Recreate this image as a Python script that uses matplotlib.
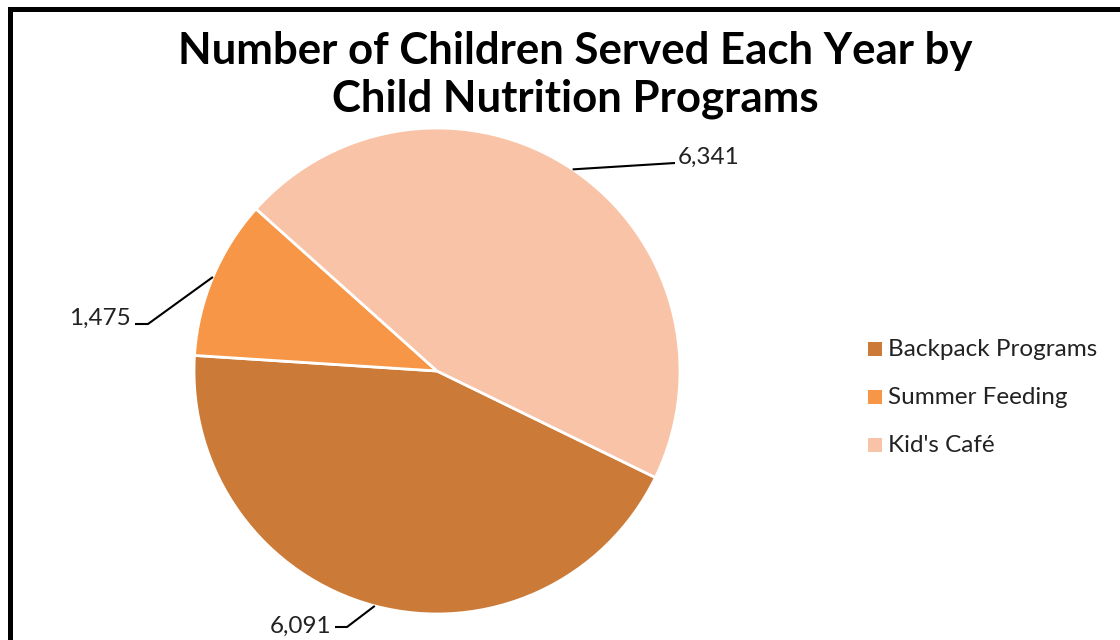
import numpy as np
import matplotlib
matplotlib.use("Agg")
import matplotlib.pyplot as plt
from matplotlib.lines import Line2D

categories = ["Backpack Programs", "Summer Feeding", "Kid's Café"]
values = [6091, 1475, 6341]
value_labels = ["6,091", "1,475", "6,341"]
colors = ["#CC7A37", "#F79646", "#F9C3A8"]
title = "Number of Children Served Each Year by\nChild Nutrition Programs"

W, H = 1120, 640
fig = plt.figure(figsize=(W / 100, H / 100), dpi=100)
fig.patch.set_facecolor("white")

cx, cy, r = 437, 371, 243
ax = fig.add_axes([(cx - r) / W, (H - cy - r) / H, 2 * r / W, 2 * r / H])

wedges, _ = ax.pie(values, colors=colors, startangle=-26, counterclock=False,
                   radius=1, wedgeprops=dict(edgecolor="white", linewidth=2))
ax.set_xlim(-1, 1)
ax.set_ylim(-1, 1)
ax.set_aspect("equal")
ax.axis("off")

def px(x, y):
    return ((x - cx) / r, (cy - y) / r)

# label layout: (elbow/end points in px, text pos, ha, va)
layouts = [
    dict(pts=[(347, 627), (335, 627)], text=(331, 626), ha="right", va="center"),
    dict(pts=[(148, 324), (135, 324)], text=(131, 325), ha="right", va="baseline"),
    dict(pts=[(675, 163)], text=(678, 157), ha="left", va="center"),
]

for w, lab, lay in zip(wedges, value_labels, layouts):
    mid = np.deg2rad((w.theta1 + w.theta2) / 2)
    start = (np.cos(mid), np.sin(mid))
    pts = [start] + [px(*p) for p in lay["pts"]]
    xs, ys = zip(*pts)
    ax.plot(xs, ys, color="black", lw=1.5, clip_on=False, solid_capstyle="butt")
    tx, ty = px(*lay["text"])
    ax.text(tx, ty, lab, ha=lay["ha"], va=lay["va"], fontsize=17.5,
            family="Lato", color="#222222", clip_on=False)

fig.text(575 / W, 1 - 75 / H, title, ha="center", va="center", fontsize=31.5,
         fontweight="bold", family="Lato", linespacing=1.23, color="black")

# legend
leg_y = [349, 397, 445]
for cat, col, y in zip(categories, colors, leg_y):
    fig.patches.append(plt.Rectangle(((868) / W, (H - y - 7) / H), 14 / W, 14 / H,
                                     transform=fig.transFigure, facecolor=col,
                                     edgecolor="none"))
    fig.text(888 / W, 1 - y / H, cat, ha="left", va="center", fontsize=17.5,
             family="Lato", color="#222222")

# chart border (top and left visible)
bx, by = 9.5, 9.0
fig.add_artist(Line2D([bx / W, bx / W], [-0.05, 1 - by / H], transform=fig.transFigure,
                      color="black", lw=3.6, solid_capstyle="projecting"))
fig.add_artist(Line2D([bx / W, 1.05], [1 - by / H, 1 - by / H], transform=fig.transFigure,
                      color="black", lw=3.6, solid_capstyle="projecting"))

fig.savefig("out.png", dpi=100, facecolor="white")
